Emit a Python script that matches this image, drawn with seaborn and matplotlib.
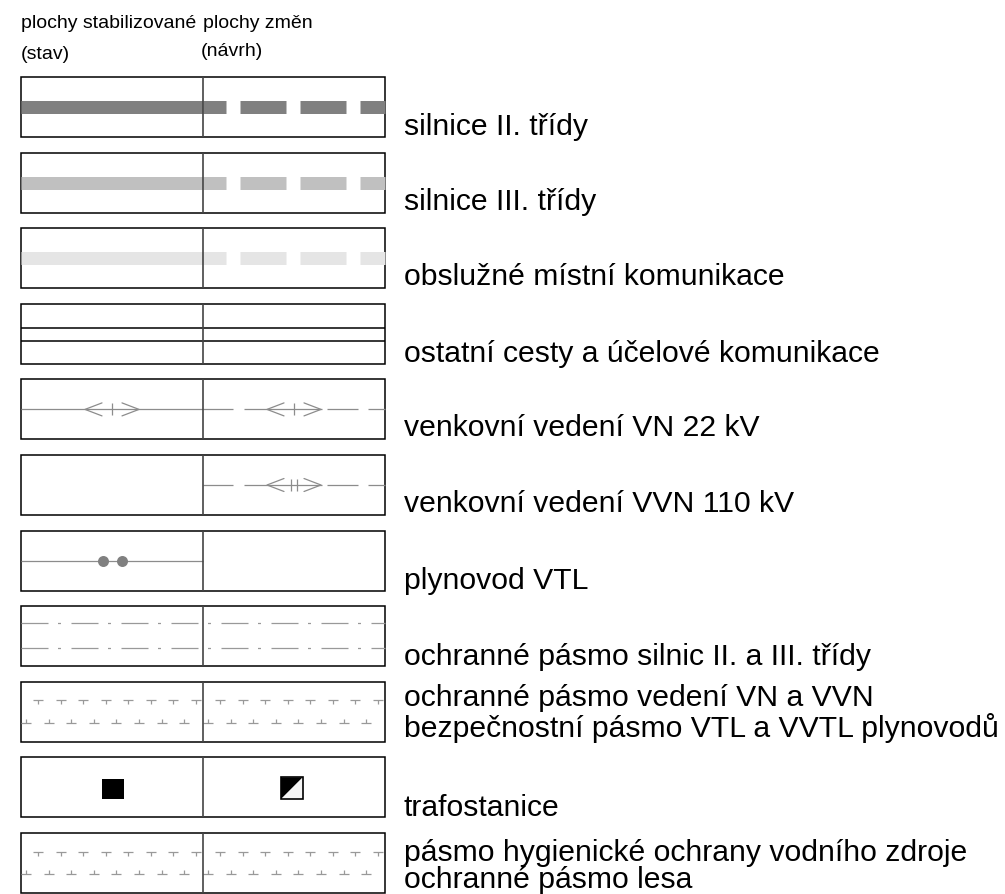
import numpy as np
import matplotlib
matplotlib.use("Agg")
import matplotlib.pyplot as plt
from matplotlib.patches import Rectangle, Polygon
import seaborn as sns

# legend rows: label text (one string per printed line) and the symbol drawn in each column
labels = [
    ["silnice II. třídy"],
    ["silnice III. třídy"],
    ["obslužné místní komunikace"],
    ["ostatní cesty a účelové komunikace"],
    ["venkovní vedení VN 22 kV"],
    ["venkovní vedení VVN 110 kV"],
    ["plynovod VTL"],
    ["ochranné pásmo silnic II. a III. třídy"],
    ["ochranné pásmo vedení VN a VVN", "bezpečnostní pásmo VTL a VVTL plynovodů"],
    ["trafostanice"],
    ["pásmo hygienické ochrany vodního zdroje", "ochranné pásmo lesa"],
]
stav = ["road", "road", "road", "double", "vn", None, "gas", "dashdot", "tees", "square", "tees"]
navrh = ["road_dash", "road_dash", "road_dash", "double", "vn_dash", "vvn_dash", None, "dashdot", "tees", "half_square", "tees"]
road_colors = ["#808080", "#c0c0c0", "#e5e5e5"]
header_left = ["plochy stabilizované", "(stav)"]
header_right = ["plochy změn", "(návrh)"]

# label baselines below the box top (pixels)
label_baselines = [[57], [56], [56], [57], [56], [56], [57], [58], [23, 54], [58], [27, 54]]

sns.set_theme(style="white")
plt.rcParams["font.family"] = ["Liberation Sans", "DejaVu Sans"]
plt.rcParams["lines.scale_dashes"] = False

PX = 0.72  # points per pixel at dpi 100
fig = plt.figure(figsize=(10.05, 8.95), dpi=100)
ax = fig.add_axes([0, 0, 1, 1])
ax.set_xlim(0, 1005)
ax.set_ylim(895, 0)
ax.axis("off")

X0, XM, X1 = 21, 203, 385
TOP0, PITCH, H = 78, 75.6, 60
GRAY = "#8c8c8c"


def cell(kind, row, x0, x1, top):
    cx = (x0 + x1) / 2
    cy = top + H / 2
    if kind is None:
        return
    if kind.startswith("road"):
        ls = (23 * PX, (46 * PX, 14 * PX)) if kind == "road_dash" else "-"
        ax.plot([x0, x1], [cy, cy], color=road_colors[row], lw=13 * PX,
                linestyle=ls, solid_capstyle="butt", dash_capstyle="butt")
    elif kind == "double":
        ax.hlines([top + 24, top + 37], x0, x1, color="black", lw=1.1)
    elif kind in ("vn", "vn_dash", "vvn_dash"):
        if kind == "vn":
            ax.hlines(cy, x0, x1, color=GRAY, lw=0.9)
        else:
            segs = np.array([[-91, -61], [-50, 28], [33, 64], [74, 91]])
            ax.hlines([cy] * len(segs), cx + segs[:, 0], cx + segs[:, 1], color=GRAY, lw=0.9)
        ax.plot([cx - 10, cx - 27, cx - 10], [cy - 6.5, cy, cy + 6.5], color=GRAY, lw=0.9)
        ax.plot([cx + 10, cx + 27, cx + 10], [cy - 6.5, cy, cy + 6.5], color=GRAY, lw=0.9)
        ticks = [-3, 3] if kind == "vvn_dash" else [0]
        ax.vlines([cx + t for t in ticks], cy - 6, cy + 6, color=GRAY, lw=0.9)
    elif kind == "gas":
        ax.hlines(cy, x0, x1, color=GRAY, lw=0.9)
        ax.plot([cx - 9.5, cx + 9.5], [cy, cy], "o", color="#808080", ms=11 * PX, mew=0)
    elif kind == "dashdot":
        off = ((x0 - X0) % 50) * PX
        pat = (off, (27 * PX, 9.5 * PX, 3 * PX, 10.5 * PX))
        for yy in (top + 17, top + 42):
            ax.plot([x0, x1], [yy, yy], color="#999999", lw=0.9, linestyle=pat,
                    dash_capstyle="butt")
    elif kind == "tees":
        yt, yb = top + 18.5, top + 41
        tx = x0 + 17 + 22.5 * np.arange(8)
        bx = x0 + 5 + 22.6 * np.arange(8)
        ax.hlines([yt] * 8, tx - 5, tx + 5, color="#999999", lw=0.9)
        ax.vlines(tx, yt, yt + 4, color="#999999", lw=0.9)
        ax.hlines([yb] * 8, np.maximum(bx - 5, x0), bx + 5, color="#999999", lw=0.9)
        ax.vlines(bx, yb - 4, yb, color="#999999", lw=0.9)
    elif kind == "square":
        ax.add_patch(Rectangle((cx - 10, cy - 8), 22, 20, color="black", lw=0))
    elif kind == "half_square":
        sx0, sx1, sy0, sy1 = cx - 13, cx + 9, cy - 10, cy + 12
        ax.add_patch(Polygon([(sx0, sy0), (sx1, sy0), (sx0, sy1)], closed=True,
                             color="black", lw=0))
        ax.add_patch(Polygon([(sx1, sy0), (sx1, sy1), (sx0, sy1)], closed=True,
                             color="#f5f5f5", lw=0))
        ax.add_patch(Rectangle((sx0, sy0), sx1 - sx0, sy1 - sy0, fill=False,
                               ec="black", lw=1.2))


for i, lines in enumerate(labels):
    top = TOP0 + PITCH * i
    cell(stav[i], i, X0, XM, top)
    cell(navrh[i], i, XM, X1, top)
    ax.add_patch(Rectangle((X0, top), X1 - X0, H, fill=False, ec="black", lw=1.1))
    ax.vlines(XM, top, top + H, color="#444444", lw=1.2)
    for txt, b in zip(lines, label_baselines[i]):
        ax.text(404, top + b, txt, fontsize=21.7, va="baseline", ha="left", color="black")

ax.text(X0, 28, header_left[0], fontsize=14, va="baseline", color="black")
ax.text(XM, 28, header_right[0], fontsize=14, va="baseline", color="black")
ax.text(X0, 59, header_left[1], fontsize=14, va="baseline", color="black")
ax.text(201, 56, header_right[1], fontsize=14, va="baseline", color="black")

fig.savefig("out.png", dpi=100, facecolor="white")
